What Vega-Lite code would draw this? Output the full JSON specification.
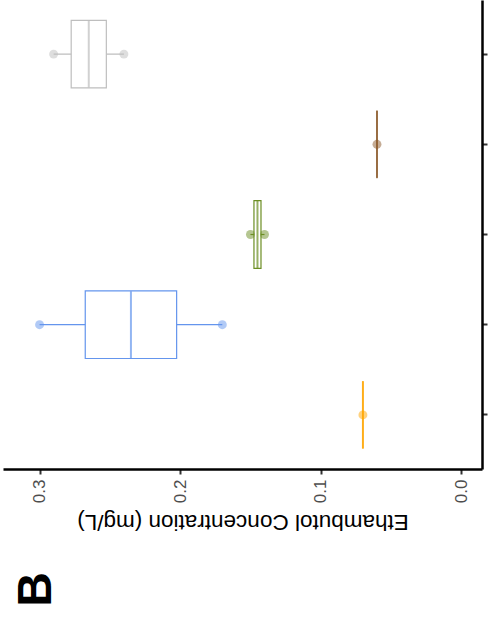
{
  "$schema": "https://vega.github.io/schema/vega-lite/v6.json",
  "width": 479,
  "height": 469,
  "autosize": {"type": "none"},
  "padding": {"left": 3, "top": 0, "right": 8, "bottom": 150},
  "background": "white",
  "config": {"view": {"stroke": null}},
  "title": {"text": "B", "orient": "bottom", "anchor": "start", "angle": 270, "fontSize": 48, "fontWeight": "bold", "font": "Liberation Sans", "color": "black", "offset": 74, "align": "left", "baseline": "top", "dy": 10},
  "data": {"values": [
    {"group": "Group 1", "value": 0.29},
    {"group": "Group 1", "value": 0.24},
    {"group": "Group 2", "value": 0.06},
    {"group": "Group 3", "value": 0.15},
    {"group": "Group 3", "value": 0.14},
    {"group": "Group 4", "value": 0.30},
    {"group": "Group 4", "value": 0.17},
    {"group": "Group 5", "value": 0.07}
  ]},
  "encoding": {
    "y": {
      "field": "group", "type": "nominal",
      "sort": ["Group 1", "Group 2", "Group 3", "Group 4", "Group 5"],
      "scale": {"type": "band", "paddingInner": 0.25, "paddingOuter": 0.225},
      "axis": {"orient": "right", "labels": false, "title": null, "ticks": true, "tickSize": 5, "tickWidth": 2, "tickColor": "#333333", "domainColor": "black", "domainWidth": 2.5, "grid": false}
    }
  },
  "layer": [
    {
      "transform": [{"aggregate": [{"op": "min", "field": "value", "as": "lo"}, {"op": "max", "field": "value", "as": "hi"}], "groupby": ["group"]}],
      "mark": {"type": "rule", "strokeWidth": 1.2},
      "encoding": {
        "x": {"field": "lo", "type": "quantitative", "title": "Ethambutol Concentration (mg/L)",
          "scale": {"domain": [-0.0147, 0.326], "reverse": true, "nice": false, "zero": false},
          "axis": {"values": [0, 0.1, 0.2, 0.3], "format": ".1f", "labelAngle": 270, "labelFont": "Liberation Sans", "labelFontSize": 17, "labelColor": "#4D4D4D", "labelPadding": 5, "tickSize": 5, "tickWidth": 2, "tickColor": "#333333", "domainColor": "black", "domainWidth": 2.5, "grid": false, "titleAngle": 180, "titleFont": "Liberation Sans", "titleFontSize": 22.5, "titleFontWeight": "normal", "titleColor": "black", "titlePadding": 7, "titleBaseline": "bottom"}},
        "x2": {"field": "hi"},
        "color": {"field": "group", "type": "nominal", "scale": {"domain": ["Group 1", "Group 2", "Group 3", "Group 4", "Group 5"], "range": ["#BEBEBE", "#8B5A2B", "#6B8E23", "#6495ED", "#FFA500"]}, "legend": null}
      }
    },
    {
      "transform": [{"aggregate": [{"op": "q1", "field": "value", "as": "q1"}, {"op": "q3", "field": "value", "as": "q3"}], "groupby": ["group"]}],
      "mark": {"type": "bar", "fill": "white", "strokeWidth": 1.2},
      "encoding": {
        "x": {"field": "q1", "type": "quantitative", "title": "Ethambutol Concentration (mg/L)"},
        "x2": {"field": "q3"},
        "stroke": {"field": "group", "type": "nominal", "scale": {"domain": ["Group 1", "Group 2", "Group 3", "Group 4", "Group 5"], "range": ["#BEBEBE", "#8B5A2B", "#6B8E23", "#6495ED", "#FFA500"]}, "legend": null}
      }
    },
    {
      "transform": [{"aggregate": [{"op": "median", "field": "value", "as": "med"}], "groupby": ["group"]}],
      "mark": {"type": "tick", "orient": "vertical", "thickness": 2, "size": 67},
      "encoding": {
        "x": {"field": "med", "type": "quantitative", "title": "Ethambutol Concentration (mg/L)"},
        "color": {"field": "group", "type": "nominal", "legend": null}
      }
    },
    {
      "mark": {"type": "circle", "size": 80, "opacity": 0.5},
      "encoding": {
        "x": {"field": "value", "type": "quantitative", "title": "Ethambutol Concentration (mg/L)"},
        "color": {"field": "group", "type": "nominal", "legend": null}
      }
    }
  ]
}
